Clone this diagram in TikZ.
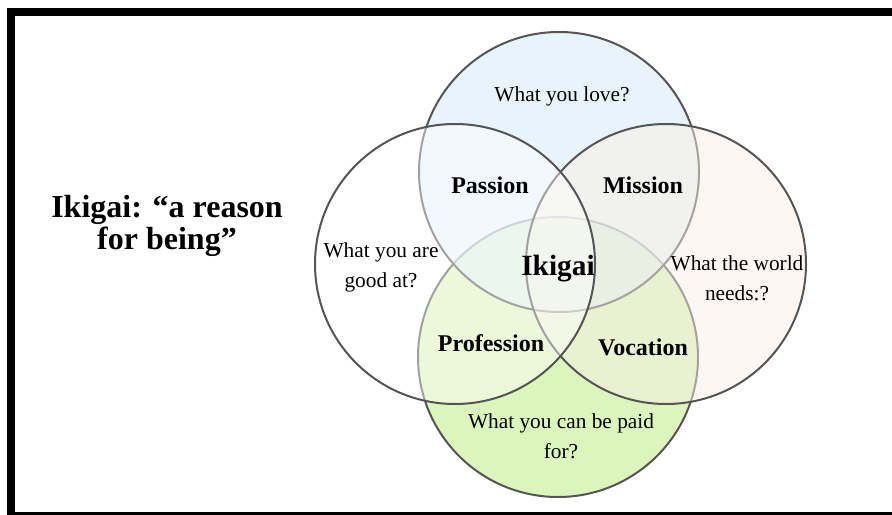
\documentclass[tikz,border=0pt]{standalone}
\usepackage{fontspec}
\setmainfont{Liberation Serif}

\definecolor{lovefill}{HTML}{D9ECFA}
\definecolor{worldfill}{HTML}{F9EFE5}
\definecolor{paidfill}{HTML}{DCF5BD}
\definecolor{ringline}{HTML}{555555}

\begin{document}
\begin{tikzpicture}[x=0.75pt, y=-0.75pt,
  ring/.style={draw=ringline, line width=1.5pt},
  plain/.style={font=\fontsize{16}{22.5}\selectfont, align=center},
  overlap/.style={font=\fontsize{18}{22.5}\selectfont\bfseries}]
  \useasboundingbox (0,0) rectangle (892,514);
  \clip (0,0) rectangle (892,514);

  % frame
  \draw[line width=6pt] (11,12) rectangle (900,516);

  % circles, later ones lie over the earlier ones
  \draw[ring, fill=paidfill] (558,357) circle (140);
  \draw[ring, fill=lovefill, fill opacity=0.6] (559,172) circle (140);
  \draw[ring, fill=worldfill, fill opacity=0.5] (666,264) circle (140);
  \draw[ring, fill=white, fill opacity=0.45] (455,264) circle (140);

  % title
  \node[font=\fontsize{24}{24}\selectfont\bfseries, align=center] (title) at (167,226)
    {Ikigai: “a reason\\for being”};

  % circle texts
  \node[plain] (love) at (562,96) {What you love?};
  \node[plain] (good) at (381,267) {What you are\\good at?};
  \node[plain] (world) at (737,278) {What the world\\needs:?};
  \node[plain] (paid) at (561,436) {What you can be paid\\for?};

  % overlaps
  \node[overlap] (passion) at (490,185) {Passion};
  \node[overlap] (mission) at (643,185) {Mission};
  \node[overlap] (profession) at (491,343) {Profession};
  \node[overlap] (vocation) at (643,347) {Vocation};
  \node[font=\fontsize{22}{22}\selectfont\bfseries] (ikigai) at (558,269) {Ikigai};
\end{tikzpicture}
\end{document}
